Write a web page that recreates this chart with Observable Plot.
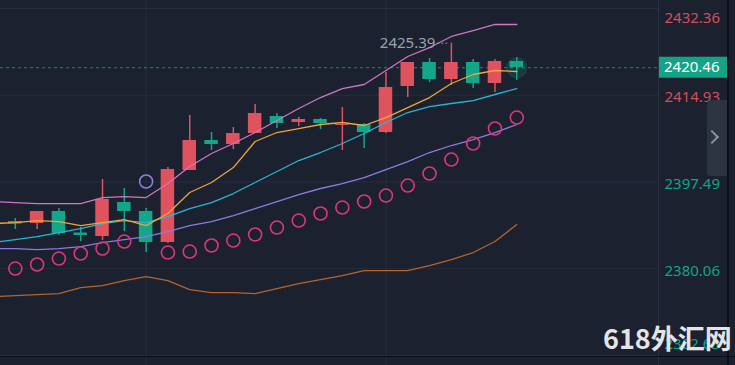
<!DOCTYPE html>
<html><head><meta charset="utf-8">
<script src="https://cdn.jsdelivr.net/npm/d3@7"></script>
<script src="https://cdn.jsdelivr.net/npm/@observablehq/plot@0.6"></script>
<style>
html,body{margin:0;padding:0;background:#1b212f;}
#wrap{position:relative;width:735px;height:365px;overflow:hidden;background:#1b212f;}
#wrap svg{display:block;}
.ov{position:absolute;pointer-events:none;}
#sep{left:658px;top:0;width:1px;height:365px;background:#2a3242;}
#rline{left:727px;top:0;width:1.5px;height:365px;background:#0b0e14;}
#bline{left:0;top:356px;width:735px;height:1px;background:#0b0e14;}
#chev{left:707px;top:100px;width:20px;height:76px;background:#2d3441;border-radius:4px 0 0 4px;}
#chevmark{left:707px;top:132px;width:8px;height:8px;border-top:2px solid #8a909c;border-right:2px solid #8a909c;transform:rotate(45deg);}
#wm{left:603px;top:324px;font:bold 27px "Noto Sans CJK SC",sans-serif;color:#e4e4e6;line-height:1;white-space:nowrap;}
</style></head><body>
<div id="wrap"></div>
<script>
// ---- data ----
const open  = [2389.55, 2389.16, 2391.57, 2387.25, 2386.54, 2393.38, 2391.57, 2385.34, 2399.81, 2405.84, 2405.03, 2407.24, 2410.66, 2409.45, 2410.06, 2408.85, 2409.05, 2407.44, 2416.69, 2421.51, 2418.09, 2421.51, 2417.29, 2421.71];
const high  = [2390.16, 2391.57, 2392.17, 2388.35, 2398.00, 2396.19, 2392.17, 2400.41, 2410.86, 2407.44, 2408.45, 2413.07, 2411.26, 2410.46, 2410.26, 2412.47, 2409.25, 2419.50, 2421.51, 2422.32, 2425.39, 2422.11, 2422.11, 2422.52];
const low   = [2387.95, 2387.95, 2386.75, 2385.54, 2385.74, 2387.55, 2383.33, 2385.14, 2399.81, 2403.83, 2404.03, 2407.24, 2408.25, 2408.65, 2408.05, 2403.83, 2404.23, 2407.24, 2414.48, 2417.49, 2416.89, 2416.29, 2415.48, 2417.89];
const close = [2389.05, 2391.57, 2387.15, 2386.75, 2393.98, 2391.57, 2385.34, 2400.01, 2405.84, 2405.03, 2407.24, 2411.26, 2409.25, 2410.06, 2409.25, 2409.05, 2407.44, 2416.49, 2421.51, 2418.09, 2421.51, 2417.29, 2421.71, 2420.46];

// indicator lines: first value belongs to the bar before the first visible candle
const bandUpper = [2393.57, 2393.37, 2393.17, 2393.17, 2393.17, 2394.37, 2394.57, 2394.37, 2397.19, 2400.60, 2403.22, 2405.23, 2407.44, 2409.85, 2412.26, 2414.47, 2416.28, 2417.09, 2419.90, 2422.72, 2424.52, 2426.74, 2427.94, 2429.15, 2429.15];
const maFast    = [2389.15, 2389.35, 2389.75, 2389.55, 2388.74, 2389.35, 2389.95, 2388.74, 2391.16, 2395.38, 2397.39, 2400.40, 2405.63, 2407.44, 2408.24, 2409.05, 2409.45, 2408.85, 2410.45, 2412.46, 2414.47, 2417.29, 2419.10, 2419.90, 2419.70];
const maMid     = [2385.33, 2385.93, 2386.53, 2387.34, 2388.14, 2389.15, 2389.75, 2389.35, 2390.55, 2392.16, 2393.37, 2395.18, 2397.39, 2399.60, 2401.81, 2403.42, 2405.23, 2407.24, 2409.45, 2411.46, 2412.66, 2413.27, 2413.87, 2415.08, 2416.28];
const bandLower = [2384.12, 2384.12, 2383.92, 2384.12, 2384.52, 2385.33, 2385.93, 2386.53, 2387.54, 2388.74, 2389.55, 2390.76, 2392.16, 2393.57, 2394.98, 2396.19, 2397.19, 2398.39, 2400.00, 2401.61, 2403.42, 2404.83, 2406.03, 2407.44, 2409.05];
const maSlow    = [2374.47, 2374.67, 2374.88, 2375.08, 2376.28, 2376.68, 2377.69, 2378.49, 2377.69, 2375.88, 2375.28, 2375.28, 2375.08, 2376.08, 2377.09, 2377.89, 2378.69, 2379.70, 2379.70, 2379.70, 2380.70, 2381.91, 2383.32, 2385.53, 2388.95];

// parabolic SAR, one per candle; sarAbove marks the one plotted above price
const sar      = [2380.10, 2380.91, 2382.11, 2383.12, 2384.12, 2385.53, 2397.59, 2383.32, 2383.52, 2384.73, 2385.73, 2386.94, 2388.34, 2389.75, 2391.16, 2392.36, 2393.57, 2394.77, 2396.78, 2399.20, 2402.01, 2405.23, 2408.24, 2410.45];
const sarAbove = [false, false, false, false, false, false, true, false, false, false, false, false, false, false, false, false, false, false, false, false, false, false, false, false];

const yTicks = [2362.63, 2380.06, 2397.49, 2414.93, 2432.36];
const xGrid = [6, 17];

// ---- styling ----
const UP = "#e0525e", DOWN = "#14a68a";
const BG = "#1b212f", GRID = "#262e3c";

const candles = open.map((o, i) => ({i, o, h: high[i], l: low[i], c: close[i]}));
const rows = arr => arr.map((v, k) => ({i: k - 1, v}));
const sarRows = sar.map((v, i) => ({i, v, above: sarAbove[i]}));
const last = candles[candles.length - 1];
const hiIdx = high.indexOf(d3.max(high));
const tickRows = yTicks.map(v => ({v, col: v > 2400 ? "#d94c57" : "#12a386"}));
const topTick = d3.max(yTicks), botTick = d3.min(yTicks);

function priceTag(index, scales, values, dims) {
  const y = scales.y(last.c);
  const x0 = dims.width - dims.marginRight;
  const g = d3.create("svg:g");
  g.append("rect").attr("x", x0 + 1).attr("y", y - 10.5).attr("width", 68).attr("height", 21).attr("fill", "#13a487");
  g.append("text").attr("x", x0 + 6).attr("y", y).attr("dy", "0.35em").attr("text-anchor", "start")
    .attr("fill", "#ffffff").attr("font-size", 15).attr("font-family", "'Noto Sans', sans-serif")
    .text(last.c.toFixed(2));
  return g.node();
}

const lineOpts = (stroke) => ({x: "i", y: "v", stroke, strokeWidth: 1.3, clip: true, curve: "linear"});

const chart = Plot.plot({
  width: 735, height: 365,
  marginLeft: 0, marginRight: 77, marginTop: 0, marginBottom: 0,
  x: {domain: [-0.679, 29.5], axis: null},
  y: {domain: [2360.62, 2433.97], axis: null},
  style: {background: BG, fontFamily: "'Noto Sans', sans-serif", fontSize: "15px", overflow: "visible"},
  marks: [
    Plot.gridY(yTicks, {stroke: GRID, strokeOpacity: 1, strokeWidth: 1}),
    Plot.gridX(xGrid, {stroke: GRID, strokeOpacity: 1, strokeWidth: 1}),
    Plot.ruleY([last.c], {stroke: "#1f8a74", strokeDasharray: "3,3", strokeWidth: 1}),
    // candles
    Plot.ruleX(candles, {x: "i", y1: "l", y2: "h", stroke: d => d.c >= d.o ? UP : DOWN, strokeWidth: 1.5}),
    Plot.rect(candles, {x1: d => d.i - 0.31, x2: d => d.i + 0.31, y1: "o", y2: "c", fill: d => d.c >= d.o ? UP : DOWN}),
    Plot.dot([last], {x: "i", y: "c", r: 10, fill: DOWN, fillOpacity: 0.18, stroke: DOWN, strokeOpacity: 0.15}),
    // indicator lines
    Plot.line(rows(maSlow), lineOpts("#b7632c")),
    Plot.line(rows(bandLower), lineOpts("#8f78e6")),
    Plot.line(rows(maMid), lineOpts("#27b6d4")),
    Plot.line(rows(bandUpper), lineOpts("#d273c4")),
    Plot.line(rows(maFast), lineOpts("#f2a33a")),
    // SAR
    Plot.dot(sarRows, {x: "i", y: "v", r: 6.5, fill: "none", strokeWidth: 1.6, stroke: d => d.above ? "#8f7ee6" : "#e0357e"}),
    // high annotation
    Plot.ruleY([high[hiIdx]], {x1: hiIdx - 0.62, x2: hiIdx - 0.12, stroke: "#8b909a", strokeDasharray: "2,2", strokeWidth: 1}),
    Plot.text([{i: hiIdx, v: high[hiIdx]}], {x: "i", y: "v", text: d => d.v.toFixed(2), textAnchor: "end", dx: -16, fill: "#9ca1ab", fontSize: 15}),
    // right axis labels
    Plot.text(tickRows.filter(d => d.v === topTick), {y: "v", text: d => d.v.toFixed(2), frameAnchor: "right", textAnchor: "start", dx: 6, dy: 10, fill: "col", fontSize: 15}),
    Plot.text(tickRows.filter(d => d.v !== topTick && d.v !== botTick), {y: "v", text: d => d.v.toFixed(2), frameAnchor: "right", textAnchor: "start", dx: 6, dy: 2, fill: "col", fontSize: 15}),
    Plot.text(tickRows.filter(d => d.v === botTick), {y: "v", text: d => d.v.toFixed(2), frameAnchor: "right", textAnchor: "start", dx: 6, dy: -11, fill: "col", fontSize: 15}),
    priceTag
  ]
});

const wrap = document.getElementById("wrap");
wrap.appendChild(chart);
for (const [id, txt] of [["sep",""],["rline",""],["bline",""],["chev",""],["chevmark",""],["wm","618外汇网"]]) {
  const d = document.createElement("div");
  d.className = "ov"; d.id = id; d.textContent = txt;
  wrap.appendChild(d);
}
</script>
</body></html>
